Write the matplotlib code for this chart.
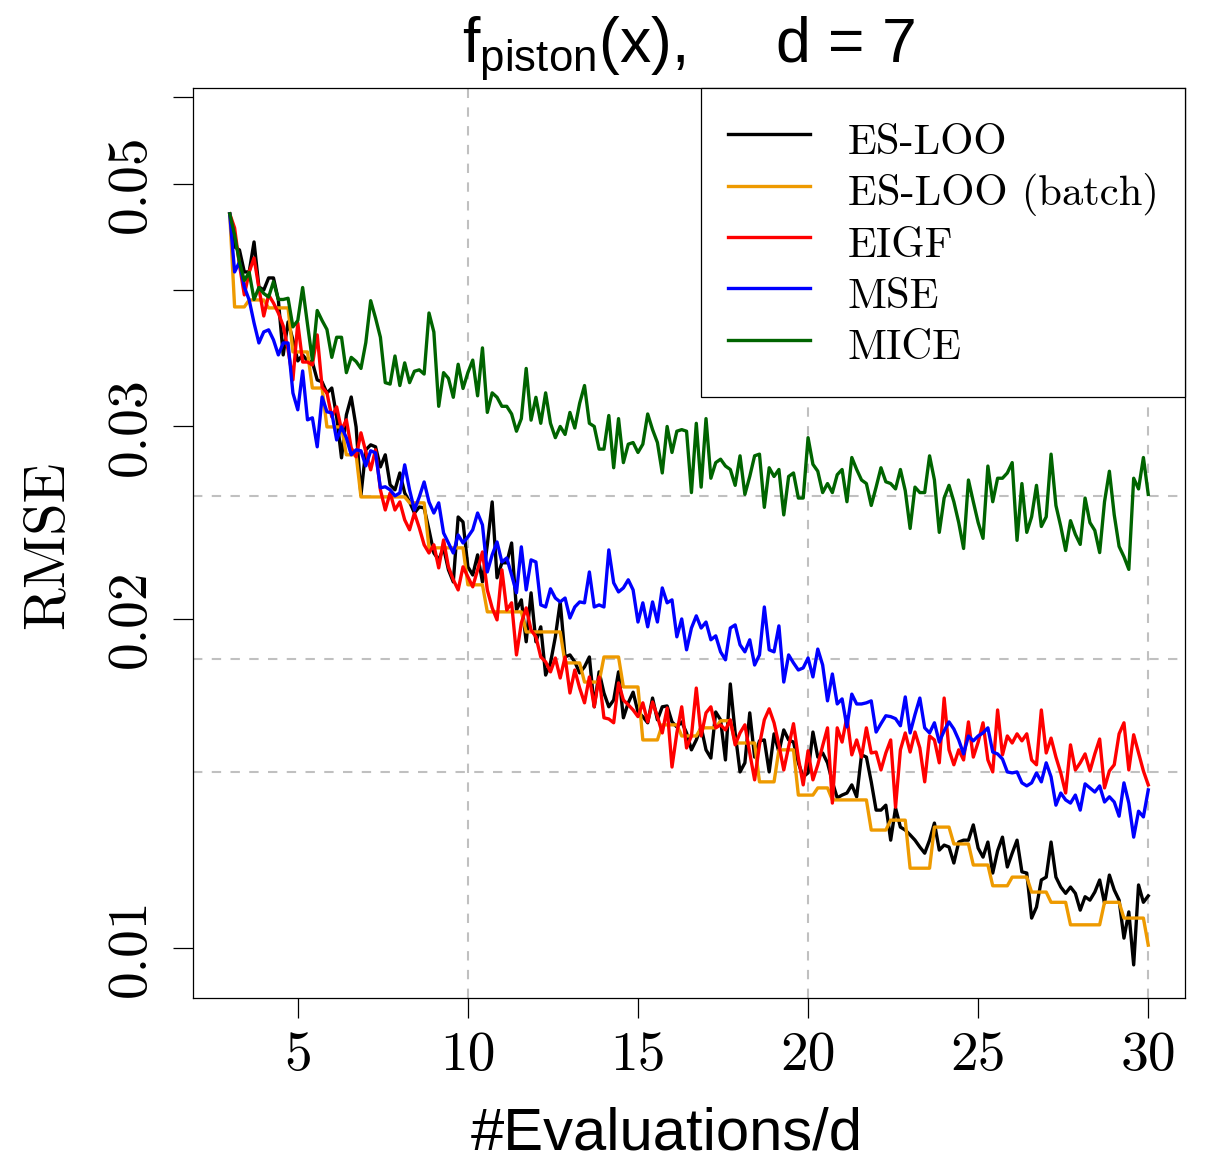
import numpy as np
import matplotlib
matplotlib.use("Agg")
from matplotlib import pyplot as plt
from matplotlib.lines import Line2D

plt.rcParams['mathtext.fontset'] = 'custom'
plt.rcParams['mathtext.rm'] = 'Liberation Sans'
plt.rcParams['mathtext.it'] = 'Liberation Sans'
plt.rcParams['axes.formatter.use_mathtext'] = True

# number of evaluations (d = 7), from 3d to 30d
d = 7
n_evals = np.arange(21, 211)
evals_per_d = n_evals / d

# RMSE values (x 1e-3), one per evaluation count
rmse_es_loo = [
    46.95, 43.79, 43.51, 41.54, 41.54, 44.25, 40.25, 39.99, 41.02, 41.02,
    39.16, 34.88, 37.39, 36.00, 34.44, 34.88, 34.44, 34.36, 33.09, 32.95,
    32.19, 32.53, 30.61, 28.08, 30.74, 31.92, 29.97, 25.97, 28.56, 28.86,
    28.74, 27.55, 28.26, 26.53, 26.25, 27.20, 26.08, 25.59, 25.00, 25.32,
    25.27, 24.13, 22.98, 22.65, 23.23, 22.18, 21.62, 24.79, 24.53, 22.32,
    21.94, 22.89, 21.62, 23.38, 25.59, 21.81, 22.51, 22.51, 23.47, 20.38,
    20.82, 19.06, 21.13, 19.06, 19.67, 17.77, 18.23, 19.26, 20.73, 18.46,
    18.54, 18.27, 17.85, 18.08, 18.46, 16.62, 17.89, 17.11, 16.62, 16.86,
    17.89, 16.24, 16.76, 17.14, 16.44, 16.28, 16.07, 16.93, 16.17, 16.62,
    16.65, 16.10, 15.93, 16.10, 15.73, 15.18, 15.50, 15.93, 15.18, 14.92,
    16.44, 16.17, 14.86, 17.44, 15.73, 14.49, 14.77, 16.41, 14.95, 15.47,
    15.50, 14.49, 15.70, 15.11, 15.83, 15.50, 15.43, 14.77, 14.34, 14.46,
    15.76, 14.95, 15.08, 14.77, 14.19, 13.72, 13.80, 13.86, 14.10, 13.75,
    15.02, 14.95, 14.19, 13.37, 13.37, 13.51, 12.55, 13.43, 12.90, 12.82,
    12.69, 12.55, 12.37, 12.21, 12.55, 13.01, 12.29, 12.42, 12.37, 11.96,
    12.50, 12.55, 12.55, 12.96, 12.34, 12.11, 12.50, 11.71, 12.27, 12.63,
    11.86, 12.21, 12.55, 11.74, 11.71, 10.65, 10.90, 11.54, 11.61, 12.50,
    11.61, 11.37, 11.22, 11.37, 11.22, 10.83, 11.14, 11.06, 11.25, 11.54,
    10.99, 11.66, 11.30, 11.06, 10.21, 10.79, 9.65, 11.42, 11.01, 11.16,
]

rmse_es_loo_batch = [
    46.95, 38.59, 38.59, 38.59, 39.16, 39.16, 39.16, 39.16, 38.51, 38.51,
    38.51, 38.51, 38.51, 35.10, 35.10, 35.10, 35.10, 32.53, 32.53, 32.53,
    29.97, 29.97, 29.97, 29.97, 28.26, 28.26, 28.26, 25.86, 25.86, 25.86,
    25.86, 25.86, 25.86, 25.86, 25.86, 25.86, 25.86, 25.54, 25.54, 25.54,
    25.54, 23.23, 23.23, 23.23, 23.23, 23.23, 23.23, 23.23, 23.23, 21.49,
    21.49, 21.49, 21.49, 20.30, 20.30, 20.30, 20.30, 20.30, 20.30, 20.30,
    20.30, 19.46, 19.46, 19.46, 19.46, 19.46, 19.46, 19.46, 19.46, 18.23,
    18.23, 18.23, 18.23, 17.51, 17.51, 17.51, 17.51, 18.46, 18.46, 18.46,
    18.46, 17.33, 17.33, 17.33, 17.33, 15.50, 15.50, 15.50, 15.50, 16.00,
    16.00, 16.00, 16.00, 15.63, 15.63, 15.63, 15.63, 15.90, 15.90, 15.90,
    15.90, 16.14, 16.14, 16.14, 15.40, 15.40, 15.40, 15.40, 15.40, 14.19,
    14.19, 14.19, 14.19, 15.18, 15.18, 15.18, 15.18, 13.80, 13.80, 13.80,
    13.80, 14.01, 14.01, 14.01, 13.66, 13.66, 13.66, 13.66, 13.66, 13.66,
    13.66, 13.66, 12.82, 12.82, 12.82, 12.82, 13.09, 13.09, 13.09, 13.09,
    11.83, 11.83, 11.83, 11.83, 11.83, 12.90, 12.90, 12.90, 12.90, 12.45,
    12.45, 12.45, 12.45, 11.91, 11.91, 11.91, 11.91, 11.40, 11.40, 11.40,
    11.40, 11.61, 11.61, 11.61, 11.61, 11.25, 11.25, 11.25, 11.25, 11.01,
    11.01, 11.01, 11.01, 10.50, 10.50, 10.50, 10.50, 10.50, 10.50, 10.50,
    11.01, 11.01, 11.01, 11.01, 10.65, 10.65, 10.65, 10.65, 10.65, 10.06,
]

rmse_eigf = [
    46.95, 45.57, 42.16, 39.58, 41.54, 42.78, 40.16, 37.86, 39.58, 38.91,
    38.10, 37.08, 35.25, 33.09, 37.31, 34.36, 34.36, 34.15, 36.38, 32.60,
    32.19, 30.61, 31.26, 29.78, 30.42, 28.68, 28.14, 29.60, 28.44, 27.38,
    28.56, 26.25, 25.16, 26.08, 25.16, 25.59, 24.64, 24.13, 25.00, 24.23,
    23.38, 22.98, 23.38, 22.27, 23.62, 22.32, 21.72, 21.26, 22.32, 21.85,
    21.40, 22.18, 23.03, 21.26, 20.47, 19.96, 22.18, 20.38, 20.69, 18.54,
    19.83, 20.47, 19.54, 19.26, 18.46, 18.27, 17.89, 18.42, 17.66, 18.46,
    17.11, 17.96, 17.29, 16.76, 17.70, 16.62, 17.70, 16.24, 16.20, 16.07,
    17.48, 16.86, 16.69, 16.51, 16.28, 16.76, 16.10, 16.79, 16.28, 15.73,
    16.58, 14.64, 15.73, 16.62, 15.24, 15.63, 17.29, 15.63, 16.41, 16.62,
    15.90, 16.00, 15.83, 16.17, 15.34, 15.73, 16.00, 15.08, 14.25, 15.34,
    16.17, 16.55, 16.07, 15.34, 14.55, 15.27, 16.04, 14.92, 14.10, 15.15,
    14.25, 14.71, 15.31, 15.90, 13.57, 15.90, 15.43, 16.28, 15.02, 15.50,
    14.95, 15.90, 15.08, 15.11, 14.55, 15.08, 15.50, 13.45, 15.18, 15.73,
    15.11, 15.76, 15.24, 14.19, 15.63, 15.50, 14.77, 16.93, 15.18, 14.71,
    15.18, 14.86, 16.10, 14.95, 15.43, 16.07, 14.86, 14.49, 16.51, 15.02,
    15.63, 15.40, 15.70, 15.47, 15.70, 14.86, 14.71, 16.51, 15.08, 15.56,
    14.95, 14.46, 13.86, 15.34, 14.55, 14.77, 15.05, 14.52, 15.05, 15.53,
    14.01, 14.52, 14.71, 15.70, 16.07, 14.55, 15.67, 15.08, 14.52, 14.10,
]

rmse_mse = [
    46.95, 41.54, 42.42, 40.25, 39.16, 37.31, 35.77, 36.61, 36.77, 36.00,
    34.88, 35.77, 35.77, 32.19, 31.07, 33.72, 30.42, 30.55, 28.74, 31.92,
    30.94, 30.87, 29.16, 29.97, 29.29, 28.26, 28.56, 28.50, 27.61, 28.50,
    28.38, 26.36, 26.42, 26.25, 25.92, 26.08, 27.67, 26.25, 25.16, 25.86,
    26.69, 25.59, 25.00, 25.54, 23.97, 23.47, 22.98, 23.87, 23.47, 23.77,
    24.13, 25.00, 24.38, 22.08, 22.89, 23.52, 22.55, 22.74, 21.94, 21.13,
    23.28, 21.26, 22.65, 22.55, 20.60, 20.51, 21.31, 20.90, 20.73, 20.90,
    20.04, 20.51, 20.73, 20.69, 22.08, 20.51, 20.60, 20.51, 23.13, 21.58,
    21.17, 21.35, 21.72, 21.26, 19.87, 20.69, 19.67, 20.73, 19.87, 21.35,
    20.69, 20.82, 19.26, 20.00, 18.74, 19.62, 20.13, 19.62, 19.87, 19.14,
    19.30, 18.66, 18.35, 19.62, 19.75, 18.94, 18.66, 19.14, 18.15, 18.54,
    20.51, 18.74, 18.66, 19.71, 17.51, 18.54, 18.23, 17.96, 18.04, 18.42,
    17.70, 18.77, 18.15, 16.83, 17.81, 16.72, 16.90, 15.93, 17.07, 16.72,
    16.72, 16.76, 16.83, 15.76, 16.04, 16.31, 16.28, 16.21, 15.97, 16.97,
    15.73, 16.35, 16.93, 15.90, 15.73, 16.07, 15.43, 15.80, 16.10, 15.86,
    15.50, 15.05, 15.63, 15.47, 15.63, 15.73, 15.90, 15.11, 15.05, 14.89,
    14.49, 14.46, 14.49, 14.16, 14.07, 14.16, 14.46, 14.19, 14.77, 14.34,
    13.51, 13.86, 13.66, 13.57, 13.80, 13.37, 14.13, 14.01, 13.89, 14.07,
    13.60, 13.75, 13.60, 13.20, 14.16, 13.57, 12.63, 13.34, 13.18, 13.95,
]

rmse_mice = [
    46.95, 44.9, 42.4, 40.8, 41.5, 39.2, 40.2, 39.7, 39.4, 40.7,
    39.2, 39.2, 39.3, 37.0, 37.5, 40.2, 37.2, 34.5, 38.3, 37.5,
    36.8, 34.7, 36.2, 36.2, 33.6, 34.7, 34.4, 33.9, 35.8, 39.1,
    37.7, 36.2, 32.9, 32.8, 34.8, 32.7, 34.3, 32.9, 33.7, 33.8,
    33.5, 38.1, 36.6, 31.3, 33.6, 33.2, 31.9, 34.2, 32.5, 33.6,
    34.5, 32.0, 35.4, 30.9, 32.2, 31.9, 31.3, 31.3, 30.8, 29.7,
    30.5, 33.9, 30.4, 31.9, 30.2, 32.2, 30.2, 29.3, 30.0, 29.5,
    30.9, 29.9, 31.5, 32.7, 30.2, 30.0, 28.6, 28.6, 30.7, 27.5,
    30.5, 27.8, 28.9, 29.0, 28.4, 28.9, 30.8, 29.8, 29.0, 27.2,
    30.0, 28.4, 29.7, 29.8, 29.7, 26.1, 30.2, 26.4, 30.5, 26.9,
    27.8, 28.0, 27.6, 27.4, 26.5, 28.2, 26.0, 27.0, 28.2, 28.3,
    25.3, 27.5, 27.0, 27.4, 24.9, 27.0, 27.2, 25.8, 25.8, 29.3,
    27.7, 27.3, 26.1, 26.6, 26.1, 27.1, 27.4, 25.6, 28.1, 27.4,
    26.8, 26.6, 25.4, 26.4, 27.5, 26.7, 26.6, 26.3, 27.4, 26.2,
    24.2, 26.4, 26.1, 26.1, 28.2, 26.8, 24.0, 25.8, 26.5, 25.6,
    24.5, 23.2, 26.8, 25.6, 24.5, 23.7, 27.6, 25.6, 26.9, 26.9,
    27.2, 27.8, 23.6, 26.6, 24.0, 24.8, 26.5, 24.3, 24.8, 28.3,
    25.4, 24.3, 23.1, 24.6, 23.9, 23.4, 25.8, 24.5, 24.1, 23.0,
    25.6, 27.3, 24.9, 23.3, 22.8, 22.2, 26.9, 26.3, 28.1, 26.0,
]

method_names = ["ES-LOO", "ES-LOO (batch)", "EIGF", "MSE", "MICE"]
method_colors = ["black", "#EE9A00", "red", "blue", "darkgreen"]
method_rmse = [rmse_es_loo, rmse_es_loo_batch, rmse_eigf, rmse_mse, rmse_mice]

x_ticks = [5, 10, 15, 20, 25, 30]
y_ticks = [0.01, 0.02, 0.03, 0.04, 0.05, 0.06]
y_ticklabels = ["0.01", "0.02", "0.03", "", "0.05", ""]
grid_x = [10, 20, 30]
grid_y = [0.0145, 0.0184, 0.0259]

serif = "cmr10"
sans = "Liberation Sans"

fig = plt.figure(figsize=(12.09, 11.60), dpi=100)
ax = fig.add_axes([193 / 1209, 1 - 998 / 1160, 992 / 1209, 910 / 1160])

# dashed grid underneath the curves
for gx in grid_x:
    ax.axvline(gx, color="#C0C0C0", linewidth=1.5, linestyle=(0, (4.5, 4.5)), zorder=1)
for gy in grid_y:
    ax.axhline(gy, color="#C0C0C0", linewidth=1.5, linestyle=(0, (4.5, 4.5)), zorder=1)

for name, color, values in zip(method_names, method_colors, method_rmse):
    ax.plot(evals_per_d, np.array(values) / 1000, color=color, linewidth=2.4, label=name, zorder=2)

ax.set_yscale("log")
ax.set_xlim(1.92, 31.08)
ax.set_ylim(0.0090, 0.0612)
ax.minorticks_off()

ax.set_xticks(x_ticks)
ax.set_xticklabels([str(t) for t in x_ticks], fontfamily=serif, fontsize=40)
ax.set_yticks(y_ticks)
ax.set_yticklabels(y_ticklabels, fontfamily=serif, fontsize=40, rotation=90, va="center")
ax.tick_params(axis="both", direction="out", length=14.4, width=0.9)
ax.tick_params(axis="x", pad=10)
ax.tick_params(axis="y", pad=12)
for spine in ax.spines.values():
    spine.set_linewidth(0.9)

ax.set_title(r"f$_{\mathrm{piston}}$(x),     d = 7", fontfamily=sans, fontsize=45, pad=19)
ax.set_xlabel("#Evaluations/d", fontfamily=sans, fontsize=43, va="baseline")
ax.xaxis.set_label_coords(0.478, -0.167)
ax.set_ylabel("RMSE", fontfamily=serif, fontsize=42, ha="center", va="center")
ax.yaxis.set_label_coords(-0.146, 0.498)

handles = [Line2D([], [], color=c, linewidth=2.4) for c in method_colors]
legend = ax.legend(handles, method_names, loc="upper right", bbox_to_anchor=(1, 1),
                   borderaxespad=0, fancybox=False, edgecolor="black", framealpha=1,
                   prop={"family": serif, "size": 30.7}, handlelength=1.92,
                   handleheight=1.474, handletextpad=0.89, labelspacing=0.0,
                   borderpad=0.62)
legend.get_frame().set_linewidth(0.9)

fig.savefig("out.png", dpi=100)
